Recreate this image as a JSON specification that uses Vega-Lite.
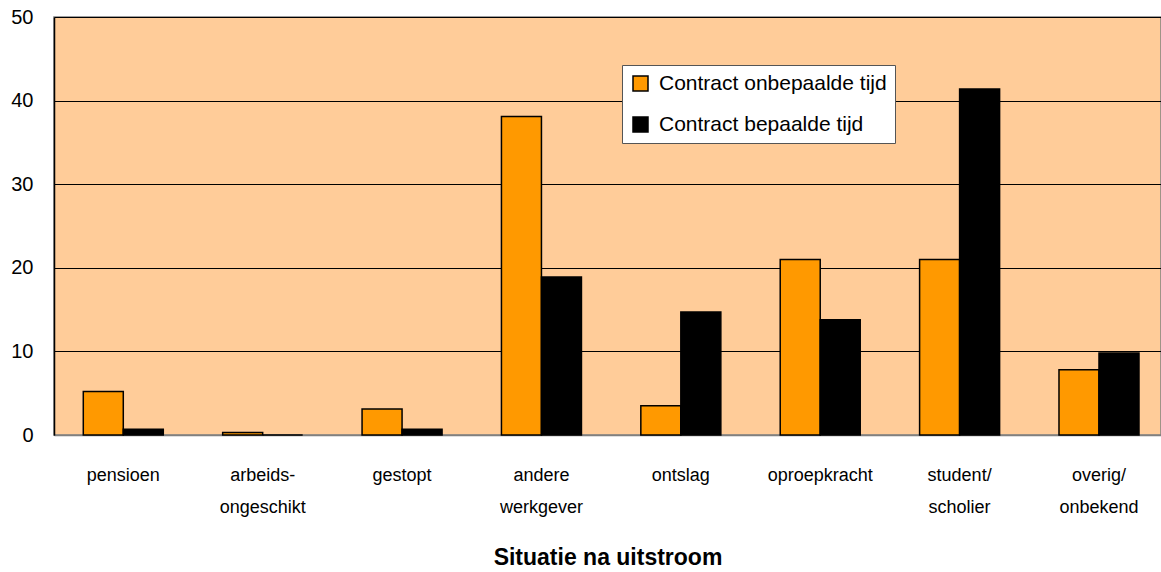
{
  "$schema": "https://vega.github.io/schema/vega-lite/v6.json",
  "width": 1107,
  "height": 418,
  "autosize": {"type": "none"},
  "padding": {"left": 54, "top": 17, "right": 0, "bottom": 137},
  "background": "white",
  "config": {
    "font": "Liberation Sans",
    "view": {"fill": "#FFCC99", "stroke": "#808080", "strokeWidth": 1.5}
  },
  "data": {
    "values": [
      {"cat": "pensioen", "serie": "Contract onbepaalde tijd", "v": 5.2},
      {"cat": "pensioen", "serie": "Contract bepaalde tijd", "v": 0.7},
      {"cat": "arbeids-|ongeschikt", "serie": "Contract onbepaalde tijd", "v": 0.3},
      {"cat": "arbeids-|ongeschikt", "serie": "Contract bepaalde tijd", "v": 0},
      {"cat": "gestopt", "serie": "Contract onbepaalde tijd", "v": 3.1},
      {"cat": "gestopt", "serie": "Contract bepaalde tijd", "v": 0.7},
      {"cat": "andere|werkgever", "serie": "Contract onbepaalde tijd", "v": 38.1},
      {"cat": "andere|werkgever", "serie": "Contract bepaalde tijd", "v": 18.9},
      {"cat": "ontslag", "serie": "Contract onbepaalde tijd", "v": 3.5},
      {"cat": "ontslag", "serie": "Contract bepaalde tijd", "v": 14.7},
      {"cat": "oproepkracht", "serie": "Contract onbepaalde tijd", "v": 21.0},
      {"cat": "oproepkracht", "serie": "Contract bepaalde tijd", "v": 13.8},
      {"cat": "student/|scholier", "serie": "Contract onbepaalde tijd", "v": 21.0},
      {"cat": "student/|scholier", "serie": "Contract bepaalde tijd", "v": 41.4},
      {"cat": "overig/|onbekend", "serie": "Contract onbepaalde tijd", "v": 7.8},
      {"cat": "overig/|onbekend", "serie": "Contract bepaalde tijd", "v": 9.8}
    ]
  },
  "mark": {"type": "bar", "stroke": "black", "strokeWidth": 1.5},
  "encoding": {
    "x": {
      "field": "cat",
      "type": "nominal",
      "sort": null,
      "scale": {"paddingInner": 0.426, "paddingOuter": 0.184, "align": 0.571},
      "title": "Situatie na uitstroom",
      "axis": {
        "labelExpr": "split(datum.value, '|')",
        "labelAngle": 0,
        "labelFontSize": 18,
        "labelColor": "black",
        "labelPadding": 40,
        "labelLineHeight": 32,
        "labelBaseline": "middle",
        "ticks": false,
        "domainColor": "#808080",
        "domainWidth": 1.5,
        "titleFontSize": 23,
        "titleFontWeight": "bold",
        "titleColor": "black",
        "titlePadding": 30
      }
    },
    "xOffset": {"field": "serie", "type": "nominal", "sort": ["Contract onbepaalde tijd", "Contract bepaalde tijd"], "scale": {"paddingInner": 0, "paddingOuter": 0}},
    "y": {
      "field": "v",
      "type": "quantitative",
      "scale": {"domain": [0, 50], "nice": false},
      "title": null,
      "axis": {
        "values": [0, 10, 20, 30, 40, 50],
        "grid": true,
        "gridColor": "black",
        "gridWidth": 1,
        "gridOpacity": 1,
        "ticks": false,
        "domainColor": "black",
        "domainWidth": 1.5,
        "labelFontSize": 20,
        "labelColor": "black",
        "labelPadding": 21
      }
    },
    "color": {
      "field": "serie",
      "type": "nominal",
      "sort": ["Contract onbepaalde tijd", "Contract bepaalde tijd"],
      "scale": {"domain": ["Contract onbepaalde tijd", "Contract bepaalde tijd"], "range": ["#FF9900", "#000000"]},
      "legend": {
        "title": null,
        "orient": "none",
        "legendX": 568,
        "legendY": 48,
        "fillColor": "white",
        "strokeColor": "#555555",
        "padding": 8,
        "symbolType": "square",
        "symbolSize": 225,
        "symbolStrokeColor": "black",
        "symbolStrokeWidth": 1.5,
        "symbolOpacity": 1,
        "labelFontSize": 21,
        "labelOffset": 8,
        "labelColor": "black",
        "labelLimit": 400,
        "rowPadding": 19,
        "offset": 0
      }
    }
  }
}
